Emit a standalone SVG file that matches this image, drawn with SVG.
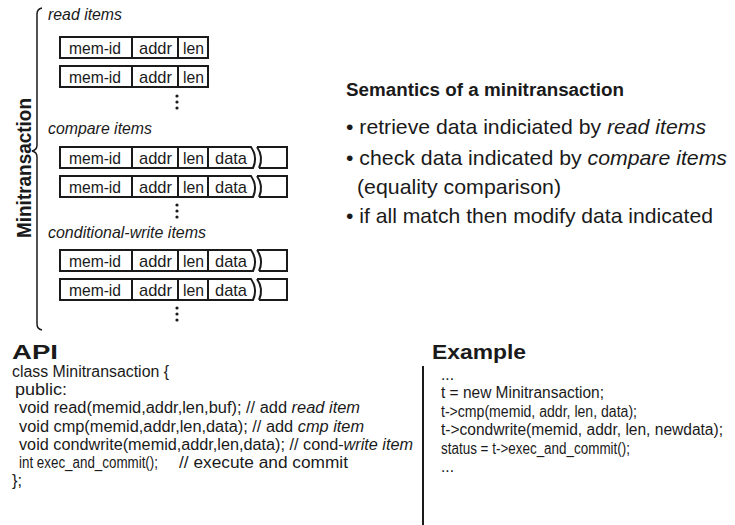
<svg xmlns="http://www.w3.org/2000/svg" width="735" height="525" viewBox="0 0 735 525">
<style>
text{font-family:"Liberation Sans",Arial,sans-serif;fill:#1a1a1a}
.it{font-style:italic}
.lbl{font-size:16.5px;font-style:italic}
.cell{font-size:17px}
.box{fill:#fff;stroke:#1a1a1a;stroke-width:2}
.ln{fill:none;stroke:#1a1a1a;stroke-width:2}
.code{font-size:16px}
.bul{font-size:21px}
.hd{font-size:21px;font-weight:bold}
</style>
<defs>
<g id="row3">
<rect class="box" x="60" y="0" width="148" height="21"/>
<line class="ln" x1="132" y1="0" x2="132" y2="21"/>
<line class="ln" x1="178" y1="0" x2="178" y2="21"/>
<text class="cell" x="69" y="16.5" textLength="52" lengthAdjust="spacingAndGlyphs">mem-id</text>
<text class="cell" x="139" y="16.5" textLength="33" lengthAdjust="spacingAndGlyphs">addr</text>
<text class="cell" x="183" y="16.5" textLength="21" lengthAdjust="spacingAndGlyphs">len</text>
</g>
<g id="row4">
<path class="ln" d="M208,0 H251 Q258,10 253,21 H208"/>
<path class="ln" d="M257,0 Q264,10 259,21 M257,0 H287 V21 H259"/>
<use href="#row3"/>
<text class="cell" x="215" y="16.5" textLength="32" lengthAdjust="spacingAndGlyphs">data</text>
</g>
<g id="dots">
<circle cx="0" cy="0" r="1.6" fill="#1a1a1a"/>
<circle cx="0" cy="6" r="1.6" fill="#1a1a1a"/>
<circle cx="0" cy="12" r="1.6" fill="#1a1a1a"/>
</g>
</defs>

<g id="minitransaction">
<path class="ln" style="stroke-width:1.5" d="M42,8 Q37,9 37,14 V145 Q37,150 32,151 Q37,152 37,157 V324 Q37,329 42,330"/>
<text x="0" y="0" transform="translate(31,168) rotate(-90)" text-anchor="middle" font-size="21" font-weight="bold" textLength="140" lengthAdjust="spacingAndGlyphs">Minitransaction</text>
</g>

<g id="read-items">
<text class="lbl" x="48" y="20" textLength="74" lengthAdjust="spacingAndGlyphs">read items</text>
<use href="#row3" y="37"/>
<use href="#row3" y="66"/>
<use href="#dots" x="177" y="96"/>
</g>

<g id="compare-items">
<text class="lbl" x="48" y="134" textLength="104" lengthAdjust="spacingAndGlyphs">compare items</text>
<use href="#row4" y="147"/>
<use href="#row4" y="176"/>
<use href="#dots" x="177" y="205"/>
</g>

<g id="condwrite-items">
<text class="lbl" x="48" y="238" textLength="158" lengthAdjust="spacingAndGlyphs">conditional-write items</text>
<use href="#row4" y="250"/>
<use href="#row4" y="279"/>
<use href="#dots" x="177" y="308"/>
</g>

<g id="semantics">
<text x="346" y="96" font-size="18" font-weight="bold" textLength="278" lengthAdjust="spacingAndGlyphs">Semantics of a minitransaction</text>
<text class="bul" x="346" y="134" textLength="360" lengthAdjust="spacingAndGlyphs">• retrieve data indiciated by <tspan class="it">read items</tspan></text>
<text class="bul" x="346" y="165" textLength="381" lengthAdjust="spacingAndGlyphs">• check data indicated by <tspan class="it">compare items</tspan></text>
<text class="bul" x="357" y="194" textLength="204" lengthAdjust="spacingAndGlyphs">(equality comparison)</text>
<text class="bul" x="346" y="223" textLength="367" lengthAdjust="spacingAndGlyphs">• if all match then modify data indicated</text>
</g>

<g id="api">
<text class="hd" x="12" y="359" textLength="46" lengthAdjust="spacingAndGlyphs">API</text>
<text class="code" x="12" y="377" textLength="157" lengthAdjust="spacingAndGlyphs">class Minitransaction {</text>
<text class="code" x="15" y="395" textLength="52" lengthAdjust="spacingAndGlyphs">public:</text>
<text class="code" x="19" y="413" textLength="341" lengthAdjust="spacingAndGlyphs">void read(memid,addr,len,buf); // add <tspan class="it">read item</tspan></text>
<text class="code" x="19" y="432" textLength="345" lengthAdjust="spacingAndGlyphs">void cmp(memid,addr,len,data); // add <tspan class="it">cmp item</tspan></text>
<text class="code" x="19" y="450" textLength="394" lengthAdjust="spacingAndGlyphs">void condwrite(memid,addr,len,data); // cond-<tspan class="it">write item</tspan></text>
<text class="code" x="19" y="468" textLength="139" lengthAdjust="spacingAndGlyphs">int exec_and_commit();</text>
<text class="code" x="179" y="468" textLength="169" lengthAdjust="spacingAndGlyphs">// execute and commit</text>
<text class="code" x="12" y="486" textLength="10" lengthAdjust="spacingAndGlyphs">};</text>
</g>

<g id="example">
<text class="hd" x="432" y="359" textLength="94" lengthAdjust="spacingAndGlyphs">Example</text>
<line class="ln" x1="423" y1="366" x2="423" y2="525"/>
<text class="code" x="441" y="380" textLength="13" lengthAdjust="spacingAndGlyphs">...</text>
<text class="code" x="441" y="398" textLength="163" lengthAdjust="spacingAndGlyphs">t = new Minitransaction;</text>
<text class="code" x="441" y="417" textLength="196" lengthAdjust="spacingAndGlyphs">t-&gt;cmp(memid, addr, len, data);</text>
<text class="code" x="441" y="435" textLength="282" lengthAdjust="spacingAndGlyphs">t-&gt;condwrite(memid, addr, len, newdata);</text>
<text class="code" x="441" y="454" textLength="189" lengthAdjust="spacingAndGlyphs">status = t-&gt;exec_and_commit();</text>
<text class="code" x="441" y="472" textLength="13" lengthAdjust="spacingAndGlyphs">...</text>
</g>
</svg>
